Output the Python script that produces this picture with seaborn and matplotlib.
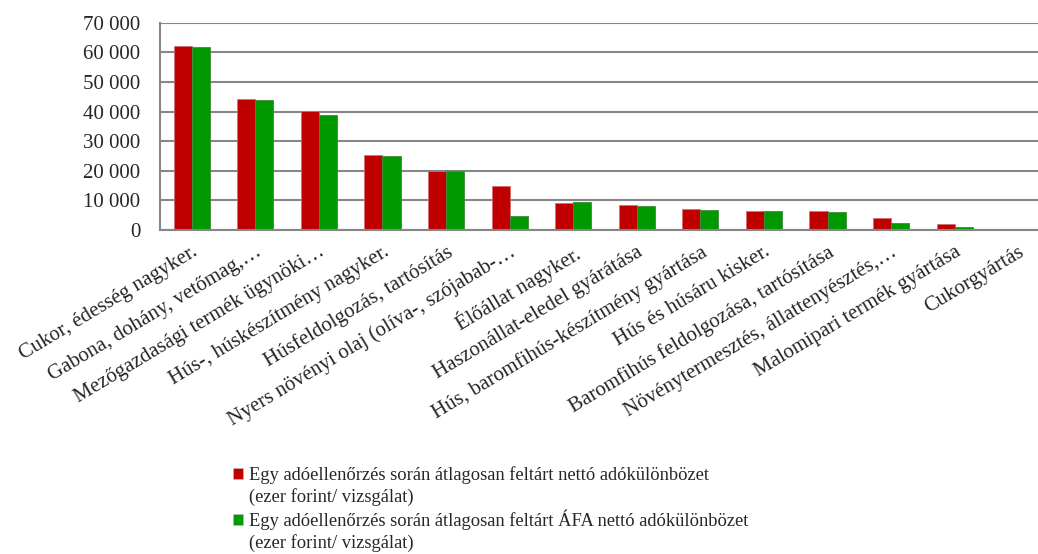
import matplotlib
matplotlib.use("Agg")
import matplotlib.pyplot as plt
import seaborn as sns
import pandas as pd
from matplotlib.ticker import FuncFormatter

categories = [
    "Cukor, édesség nagyker.",
    "Gabona, dohány, vetőmag,…",
    "Mezőgazdasági termék ügynöki…",
    "Hús-, húskészítmény nagyker.",
    "Húsfeldolgozás, tartósítás",
    "Nyers növényi olaj (olíva-, szójabab-…",
    "Élőállat nagyker.",
    "Haszonállat-eledel gyárátása",
    "Hús, baromfihús-készítmény gyártása",
    "Hús és húsáru kisker.",
    "Baromfihús feldolgozása, tartósítása",
    "Növénytermesztés, állattenyésztés,…",
    "Malomipari termék gyártása",
    "Cukorgyártás",
]
net_diff = [62300, 44100, 40300, 25200, 19900, 14700, 9100, 8550, 7200, 6550, 6550, 4050, 2150, 150]
vat_diff = [61900, 43800, 38700, 24900, 19800, 4700, 9350, 8200, 6900, 6550, 6200, 2250, 1150, 100]
series_names = [
    "Egy adóellenőrzés során átlagosan feltárt nettó adókülönbözet",
    "Egy adóellenőrzés során átlagosan feltárt ÁFA nettó adókülönbözet",
]
unit_line = "(ezer forint/ vizsgálat)"
colors = ["#C00000", "#009900"]

df = pd.DataFrame({
    "kategoria": categories * 2,
    "ertek": net_diff + vat_diff,
    "sorozat": [series_names[0]] * len(categories) + [series_names[1]] * len(categories),
})

sns.set_style("white")
plt.rcParams["font.family"] = ["Liberation Serif", "DejaVu Serif"]
FS = 15
LEG_FS = 13.3

fig = plt.figure(figsize=(10.38, 5.54), dpi=100)
ax = fig.add_axes([0.1541, 0.5848, 0.8575, 0.3742])

sns.barplot(data=df, x="kategoria", y="ertek", hue="sorozat", palette=colors,
            width=0.57, ax=ax, order=categories, hue_order=series_names,
            linewidth=0.6, saturation=1)
for patch in ax.patches:
    fc = patch.get_facecolor()
    patch.set_edgecolor("#d07070" if fc[0] > fc[1] else "#3d8a3d")

ax.set_xlim(-0.5, len(categories) - 0.5)
ax.set_ylim(0, 70000)
ax.set_yticks(range(0, 70001, 10000))
ax.yaxis.set_major_formatter(FuncFormatter(lambda v, p: f"{int(v):,}".replace(",", " ")))
ax.grid(axis="y", color="#868686", linewidth=1.5)
ax.set_axisbelow(True)
for side in ["top", "right"]:
    ax.spines[side].set_visible(False)
for side in ["left", "bottom"]:
    ax.spines[side].set_color("#868686")
    ax.spines[side].set_linewidth(1.5)

# category boundaries carry the x tick marks, the labels sit at the centres
ax.set_xticks([i - 0.5 for i in range(len(categories) + 1)], minor=False)
ax.set_xticklabels([])
ax.set_xticks(range(len(categories)), minor=True)
ax.set_xticklabels(categories, minor=True, rotation=31, ha="right",
                   rotation_mode="anchor", fontsize=FS)
ax.tick_params(axis="x", which="major", length=5, width=1.5, color="#868686", direction="out")
ax.tick_params(axis="x", which="minor", length=0, pad=9)
ax.tick_params(axis="y", length=5, width=1.5, color="#868686", direction="out",
               labelsize=FS, pad=9)
ax.set_xlabel("")
ax.set_ylabel("")

ax.legend_.remove()
blank = plt.Rectangle((0, 0), 1, 1, facecolor="none", edgecolor="none")
handles = [
    plt.Rectangle((0, 0), 1, 1, facecolor=colors[0], edgecolor="#bbbbbb", linewidth=0.5),
    blank,
    plt.Rectangle((0, 0), 1, 1, facecolor=colors[1], edgecolor="#bbbbbb", linewidth=0.5),
    blank,
]
labels = [series_names[0], unit_line, series_names[1], unit_line]
fig.legend(handles, labels, loc="upper left", bbox_to_anchor=(0.2245, 0.159),
           frameon=False, fontsize=LEG_FS, handlelength=0.55, handleheight=0.55,
           handletextpad=0.3, labelspacing=0.22, borderpad=0.0, borderaxespad=0.0)

fig.savefig("out.png", dpi=100)
